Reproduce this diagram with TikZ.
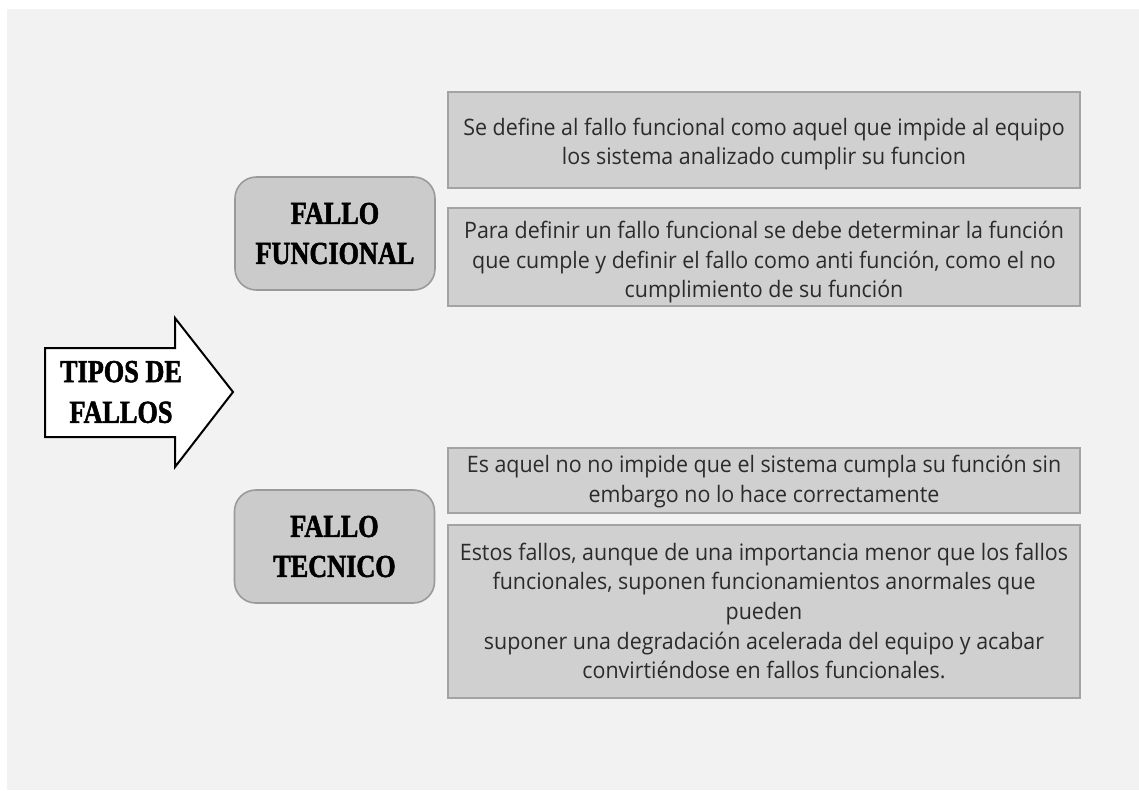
\documentclass[tikz,border=0pt]{standalone}
\usepackage{fontspec}
\setmainfont[FakeStretch=0.945]{Open Sans}
\newfontfamily\headfont[FakeStretch=0.82,FakeBold=1.6]{Liberation Serif Bold}
\definecolor{bgc}{HTML}{F2F2F2}
\definecolor{boxfill}{HTML}{D0D0D0}
\definecolor{boxline}{HTML}{A3A3A3}
\definecolor{rfill}{HTML}{CBCBCB}
\definecolor{rline}{HTML}{9A9A9A}
\definecolor{txt}{HTML}{2B2B2B}
\begin{document}
\begin{tikzpicture}[x=0.75pt,y=-0.75pt,
  infobox/.style={draw=boxline, line width=1.5pt, fill=boxfill, minimum width=632*0.75pt, inner sep=0pt},
  boxtext/.style={inner sep=0pt, align=center, text=txt, font=\fontsize{17}{22.2}\selectfont},
  headbox/.style={draw=rline, line width=1.2pt, fill=rfill, rounded corners=16pt, minimum width=200*0.75pt,
     minimum height=113*0.75pt, align=center, font=\headfont\fontsize{24}{30}\selectfont},
  headtext/.style={align=center, font=\headfont\fontsize{24}{30.5}\selectfont, inner sep=0pt}]
\useasboundingbox (0,0) rectangle (1139,790);
\fill[white] (0,0) rectangle (1139,790);
\fill[bgc] (7,9) rectangle (1139,790);
% arrow
\draw[fill=white, line width=1.5pt, line join=miter]
  (45,348) -- (175,348) -- (175,318) -- (233,392) -- (175,467) -- (175,437) -- (45,437) -- cycle;
\node[headtext] (tipos) at (121,392) {TIPOS DE\\FALLOS};
% heading boxes
\node[headbox] (ff) at (335,233.5) {FALLO\\FUNCIONAL};
\node[headbox] (ft) at (334.5,546.5) {FALLO\\TECNICO};
% info boxes
\node[infobox, minimum height=96*0.75pt] (b1) at (764,140) {};
\node[boxtext] (t1) at ([yshift=-3pt]b1.center) {Se define al fallo funcional como aquel que impide al equipo\\los sistema analizado cumplir su funcion};
\node[infobox, minimum height=98*0.75pt] (b2) at (764,257) {};
\node[boxtext] (t2) at ([yshift=-3.8pt]b2.center) {Para definir un fallo funcional se debe determinar la función\\que cumple y definir el fallo como anti función, como el no\\cumplimiento de su función};
\node[infobox, minimum height=65*0.75pt] (b3) at (764,480) {};
\node[boxtext] (t3) at ([yshift=-1pt]b3.center) {Es aquel no no impide que el sistema cumpla su función sin\\embargo no lo hace correctamente};
\node[infobox, minimum height=173*0.75pt] (b4) at (764,611) {};
\node[boxtext] (t4) at (b4.center) {Estos fallos, aunque de una importancia menor que los fallos\\funcionales, suponen funcionamientos anormales que\\pueden\\suponer una degradación acelerada del equipo y acabar\\convirtiéndose en fallos funcionales.};
\end{tikzpicture}
\end{document}
